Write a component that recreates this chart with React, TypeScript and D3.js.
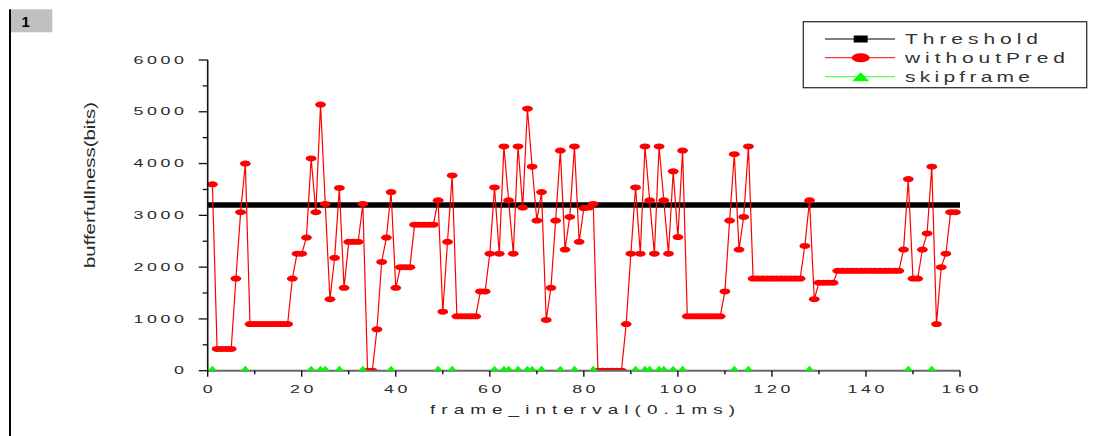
import React from 'react';
import * as d3 from 'd3';

// withoutPred buffer fullness (bits), frames 1..159
const withoutPred: number[] = [
  3600, 420, 420, 420, 420, 1780, 3060, 4000, 900, 900,
  900, 900, 900, 900, 900, 900, 900, 1780, 2260, 2260,
  2570, 4100, 3060, 5140, 3220, 1380, 2180, 3530, 1600, 2490,
  2490, 2490, 3220, 0, 0, 800, 2100, 2570, 3450, 1600,
  2000, 2000, 2000, 2820, 2820, 2820, 2820, 2820, 3290, 1140,
  2490, 3770, 1050, 1050, 1050, 1050, 1050, 1530, 1530, 2260,
  3540, 2260, 4330, 3290, 2260, 4330, 3150, 5060, 3940, 2900,
  3450, 980, 1600, 2900, 4250, 2340, 2970, 4330, 2490, 3140,
  3150, 3220, 0, 0, 0, 0, 0, 0, 900, 2260,
  3540, 2260, 4330, 3290, 2260, 4330, 3290, 2260, 3850, 2580,
  4250, 1050, 1050, 1050, 1050, 1050, 1050, 1050, 1050, 1530,
  2900, 4180, 2340, 2970, 4330, 1780, 1780, 1780, 1780, 1780,
  1780, 1780, 1780, 1780, 1780, 1780, 2410, 3290, 1380, 1700,
  1700, 1700, 1700, 1930, 1930, 1930, 1930, 1930, 1930, 1930,
  1930, 1930, 1930, 1930, 1930, 1930, 1930, 2340, 3700, 1780,
  1780, 2340, 2650, 3940, 900, 2000, 2260, 3060, 3060,
];
const firstFrame = 1;

// frames where a frame was skipped (skipframe series, value 0)
const skipFrames: number[] = [
  1, 8, 22, 24, 25, 28, 33, 39, 49, 52, 61, 63, 64, 66, 68, 69, 71, 75, 78, 82,
  91, 93, 94, 96, 97, 99, 101, 112, 115, 128, 149, 154,
];
const skipValue = 0;

const thresholdValue = 3200;
const thresholdFrames: number[] = [0, 160];

const xTicks: number[] = [0, 20, 40, 60, 80, 100, 120, 140, 160];
const xMinorTicks: number[] = [10, 30, 50, 70, 90, 110, 130, 150];
const yTicks: number[] = [0, 1000, 2000, 3000, 4000, 5000, 6000];
const yMinorTicks: number[] = [500, 1500, 2500, 3500, 4500, 5500];

const legendLabels: string[] = ['Threshold', 'withoutPred', 'skipframe'];

const W = 1105;
const H = 436;
const FONT = "'Liberation Sans', Arial, sans-serif";

const x = d3.scaleLinear().domain([0, 160]).range([207.7, 960]);
const y = d3.scaleLinear().domain([0, 6000]).range([370.7, 60]);

type STProps = {
  x: number; y: number; text: string; width?: number; sx: number; size: number;
  anchor?: 'start' | 'middle' | 'end'; fill?: string; weight?: string | number;
};
function StretchText({ x, y, text, width, sx, size, anchor = 'start', fill = '#2a2a2a', weight }: STProps) {
  const tl = width && text.length > 1 ? width / sx : undefined;
  return (
    <g transform={`translate(${x},${y}) scale(${sx},1)`}>
      <text
        x={0}
        y={0}
        textAnchor={anchor}
        fontSize={size}
        fontFamily={FONT}
        fill={fill}
        fontWeight={weight}
        textLength={tl}
        lengthAdjust={tl ? 'spacing' : undefined}
      >
        {text}
      </text>
    </g>
  );
}

const tickW = (s: string) => 13.5 * s.length - 3.6;

export default function App() {
  const data = withoutPred.map((v, i) => ({ f: i + firstFrame, v }));
  const line = d3
    .line<{ f: number; v: number }>()
    .x((d) => x(d.f))
    .y((d) => y(d.v));
  const thrLine = d3
    .line<number>()
    .x((f) => x(f))
    .y(() => y(thresholdValue));
  const y0 = y(0);
  const skipLine = d3
    .line<number>()
    .x((f) => x(f))
    .y(() => y(skipValue));

  const legendRows = [39, 57.7, 76.7];

  return (
    <svg
      width={W}
      height={H}
      viewBox={`0 0 ${W} ${H}`}
      style={{ position: 'absolute', left: 0, top: 0, display: 'block', background: '#fff' }}
    >
      <defs>
        <clipPath id="plotClip">
          <rect x={0} y={0} width={W} height={y0} />
        </clipPath>
      </defs>
      <rect x={0} y={0} width={W} height={H} fill="#fff" />

      {/* page frame: left rule and tag */}
      <line x1={10} y1={9.3} x2={10} y2={H} stroke="#000" strokeWidth={2} />
      <rect x={11} y={9.3} width={41.3} height={23} fill="#c0c0c0" />
      <text x={21.5} y={26.5} fontSize={15} fontWeight="bold" fontFamily={FONT} fill="#000">1</text>

      {/* data */}
      <g clipPath="url(#plotClip)">
        <path d={thrLine(thresholdFrames) || ''} stroke="#000" strokeWidth={5.6} fill="none" />
        <path d={line(data) || ''} stroke="#ff0000" strokeWidth={1.2} fill="none" />
        {data.map((d) => (
          <ellipse key={d.f} cx={x(d.f)} cy={y(d.v)} rx={5.4} ry={3} fill="#ff0000" />
        ))}
        <path d={skipLine(skipFrames) || ''} stroke="#00ff00" strokeWidth={1} fill="none" />
      </g>

      {/* x axis */}
      <line x1={x(0)} x2={x(160)} y1={y0} y2={y0} stroke="#666" strokeWidth={2} />
      {xTicks.map((t) => (
        <line key={'xt' + t} x1={x(t)} x2={x(t)} y1={y0} y2={y0 + 6} stroke="#000" strokeWidth={1.3} />
      ))}
      {xMinorTicks.map((t) => (
        <line key={'xm' + t} x1={x(t)} x2={x(t)} y1={y0} y2={y0 + 3.5} stroke="#000" strokeWidth={1.3} />
      ))}
      {xTicks.map((t) => (
        <StretchText key={'xl' + t} x={x(t)} y={392.5} text={String(t)} width={tickW(String(t))} sx={1.7} size={10.5} anchor="middle" />
      ))}
      <StretchText x={582.5} y={414} text="frame_interval(0.1ms)" width={305} sx={1.5} size={12.6} anchor="middle" />

      {/* y axis */}
      <line x1={x(0)} x2={x(0)} y1={y0 + 1} y2={y(6000)} stroke="#111" strokeWidth={1.6} />
      {yTicks.map((t) => (
        <line key={'yt' + t} x1={x(0) - 9} x2={x(0)} y1={y(t)} y2={y(t)} stroke="#111" strokeWidth={1.3} />
      ))}
      {yMinorTicks.map((t) => (
        <line key={'ym' + t} x1={x(0) - 5} x2={x(0)} y1={y(t)} y2={y(t)} stroke="#111" strokeWidth={1.3} />
      ))}
      {yTicks.map((t) => (
        <StretchText key={'yl' + t} x={184} y={y(t) + 3.7} text={String(t)} width={tickW(String(t))} sx={1.7} size={10.5} anchor="end" />
      ))}
      <g transform="translate(95,185) rotate(-90)">
        <text x={0} y={0} textAnchor="middle" fontSize={14} fontFamily={FONT} fill="#2a2a2a" textLength={166} lengthAdjust="spacingAndGlyphs">
          bufferfullness(bits)
        </text>
      </g>

      {/* skipframe markers (clipped at axis like the plot layer) */}
      <g clipPath="url(#plotClip)">
        {skipFrames.map((f) => {
          const cx = x(f);
          const cy = y(skipValue);
          return <polygon key={'s' + f} points={`${cx - 9},${cy + 5} ${cx + 9},${cy + 5} ${cx},${cy - 5}`} fill="#00ff00" />;
        })}
      </g>

      {/* legend */}
      <rect x={803.3} y={21.7} width={283.4} height={66} fill="#fff" stroke="#333" strokeWidth={1.3} />
      {legendLabels.map((lab, i) => {
        const cy = legendRows[i];
        const colors = ['#000', '#ff0000', '#00ff00'];
        const lineCol = ['#000', '#ff3333', '#55ff55'];
        return (
          <g key={lab}>
            <line x1={825} x2={895} y1={cy} y2={cy} stroke={lineCol[i]} strokeWidth={1.2} />
            {i === 0 && <rect x={860.7 - 7} y={cy - 3.5} width={14} height={7} fill={colors[i]} />}
            {i === 1 && <ellipse cx={860.7} cy={cy} rx={9} ry={4.5} fill={colors[i]} />}
            {i === 2 && (
              <polygon points={`${860.7 - 8.5},${cy + 4.5} ${860.7 + 8.5},${cy + 4.5} ${860.7},${cy - 4.5}`} fill={colors[i]} />
            )}
            <StretchText x={905} y={cy + 5.4} text={lab} width={[133, 160, 125][i]} sx={1.4} size={15} anchor="start" fill="#333" />
          </g>
        );
      })}
    </svg>
  );
}
